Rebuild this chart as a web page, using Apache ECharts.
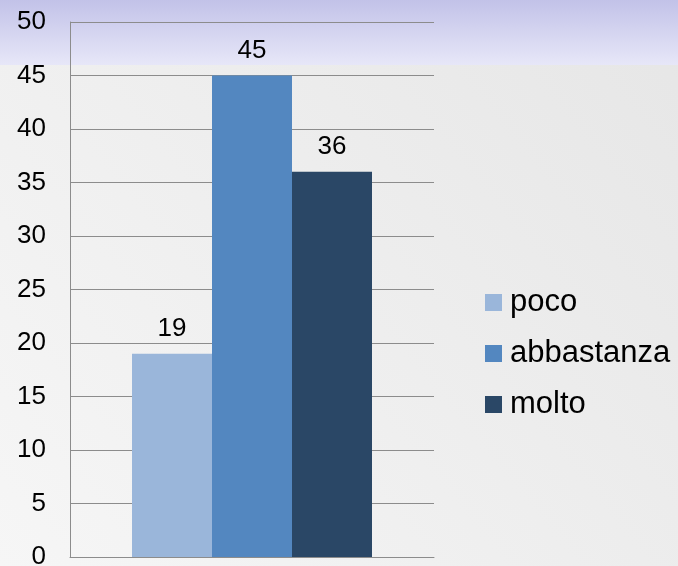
<!DOCTYPE html>
<html>
<head>
<meta charset="utf-8">
<script src="https://cdn.jsdelivr.net/npm/echarts@6/dist/echarts.min.js"></script>
<style>html,body{margin:0;padding:0;}#c{width:678px;height:566px;}</style>
</head>
<body>
<div id="c"></div>
<script>
const categories = [''];
const seriesNames = ['poco', 'abbastanza', 'molto'];
const pocoValues = [19];
const abbastanzaValues = [45];
const moltoValues = [36];
const yTicks = [0, 5, 10, 15, 20, 25, 30, 35, 40, 45, 50];

const colors = ['#9AB6DA', '#5387C0', '#2A4766'];
const seriesValues = [pocoValues, abbastanzaValues, moltoValues];
const font = 'Liberation Sans, Arial, sans-serif';

const chart = echarts.init(document.getElementById('c'));
chart.setOption({
  animation: false,
  backgroundColor: {
    type: 'linear', x: 0, y: 1, x2: 1, y2: 0,
    colorStops: [{offset: 0, color: '#F6F6F6'}, {offset: 1, color: '#E6E6E6'}]
  },
  graphic: [{
    type: 'rect', silent: true, z: -10,
    shape: {x: 0, y: 0, width: 678, height: 65},
    style: {fill: {type: 'linear', x: 0, y: 0, x2: 0, y2: 1,
      colorStops: [{offset: 0, color: '#C2C2E8'}, {offset: 1, color: '#E7E7F8'}]}}
  }],
  grid: {left: 70, right: 244, top: 22, bottom: 9, outerBoundsMode: 'none', containLabel: false},
  legend: {
    orient: 'vertical', left: 485, top: 287, padding: 0,
    itemWidth: 17, itemHeight: 17, itemGap: 20, icon: 'rect',
    data: seriesNames,
    textStyle: {fontSize: 31, lineHeight: 31, color: '#000', fontFamily: font, padding: [0, 0, 0, 3]}
  },
  xAxis: {
    type: 'category', data: categories,
    axisLine: {lineStyle: {color: '#8C8C8C', width: 1}},
    axisTick: {show: false}, axisLabel: {show: false}
  },
  yAxis: {
    type: 'value', min: yTicks[0], max: yTicks[yTicks.length - 1], interval: 5,
    axisLine: {show: true, lineStyle: {color: '#8C8C8C', width: 1}},
    axisTick: {show: false},
    splitLine: {lineStyle: {color: '#8C8C8C', width: 1}},
    axisLabel: {fontSize: 26, color: '#000', margin: 24, fontFamily: font}
  },
  series: seriesNames.map((n, i) => ({
    name: n, type: 'bar', data: seriesValues[i],
    barWidth: 80, barGap: '0%',
    itemStyle: {color: colors[i]},
    label: {show: true, position: 'top', distance: 12, fontSize: 26, color: '#000', fontFamily: font}
  }))
});
</script>
</body>
</html>
